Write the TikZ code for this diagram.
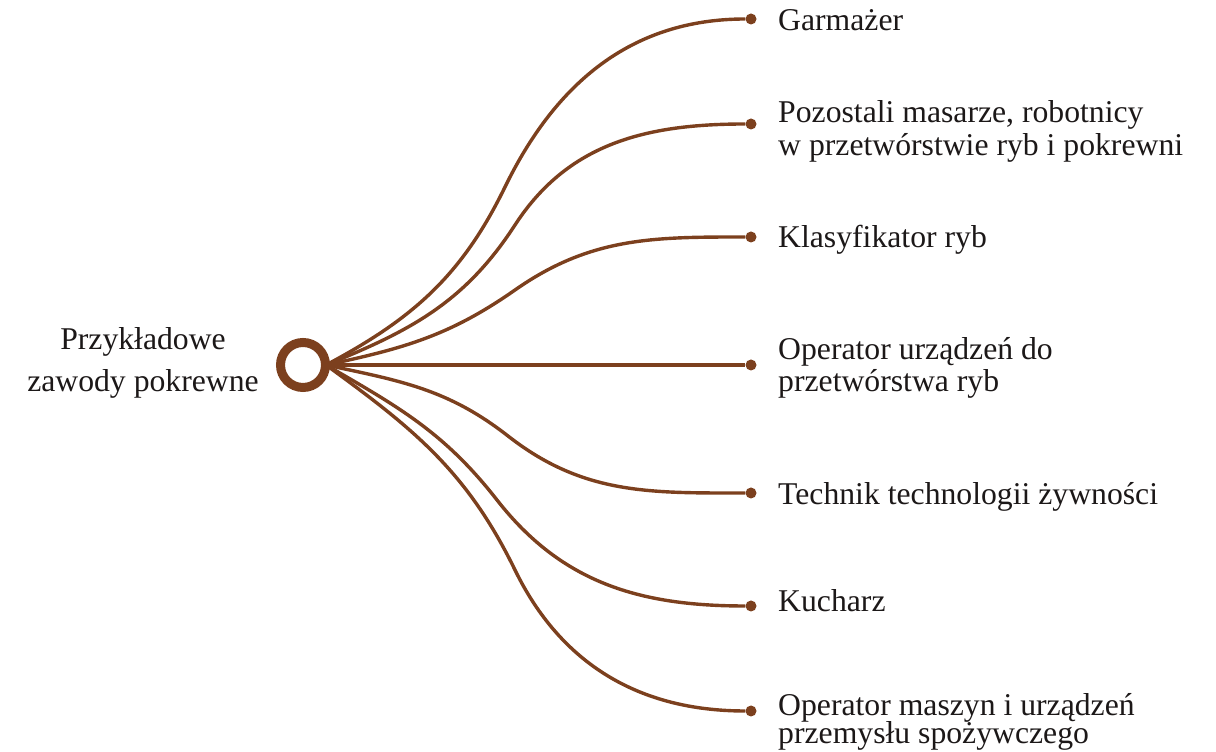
\documentclass[tikz,border=0pt]{standalone}
\usepackage{fontspec}
\setmainfont{Liberation Serif}
\definecolor{brn}{RGB}{124,64,30}
\definecolor{txt}{RGB}{28,24,24}
\begin{document}
\begin{tikzpicture}[x=1pt,y=1pt,
  link/.style={draw=brn, line width=3.4pt},
  enddot/.style={circle, fill=brn, inner sep=0pt, minimum size=11pt},
  lbl/.style={anchor=base west, inner sep=0pt, text=txt, font=\fontsize{31.7}{33}\selectfont},
  rootlbl/.style={anchor=base, inner sep=0pt, text=txt, font=\fontsize{31.7}{33}\selectfont},
  hubring/.style={circle, draw=brn, line width=9pt, fill=white, minimum size=45pt, inner sep=0pt}
]
\useasboundingbox (0,0) rectangle (1216,752);
\coordinate (hub) at (303,387);
\coordinate (hubE) at (326,387);
% end dots
\node[enddot] (e1) at (751,733) {};
\node[enddot] (e2) at (751,628) {};
\node[enddot] (e3) at (751,515) {};
\node[enddot] (e4) at (751,387) {};
\node[enddot] (e5) at (751,259) {};
\node[enddot] (e6) at (751,146) {};
\node[enddot] (e7) at (751,41) {};
% inflection points of the S-curves
\coordinate (m1) at (505,565);
\coordinate (m2) at (515,527);
\coordinate (m3) at (515,462);
\coordinate (m5) at (508,316);
\coordinate (m6) at (497,252);
\coordinate (m7) at (515,182);
% connectors
\draw[link] (hubE) to[out=28,in=-116] (m1) to[out=64,in=180] (e1);
\draw[link] (hubE) to[out=22,in=-123] (m2) to[out=57,in=180] (e2);
\draw[link] (hubE) to[out=12,in=-145] (m3) to[out=35,in=180] (e3);
\draw[link] (hub) -- (e4);
\draw[link] (hubE) to[out=-12,in=142] (m5) to[out=-38,in=180] (e5);
\draw[link] (hubE) to[out=-30,in=128] (m6) to[out=-52,in=180] (e6);
\draw[link] (hubE) to[out=-36,in=116] (m7) to[out=-64,in=180] (e7);
% hub ring
\node[hubring] (ring) at (hub) {};
% labels
\node[rootlbl] (root) at (143,402) {\begin{tabular}[t]{@{}c@{}}Przykładowe\\[9pt]zawody pokrewne\end{tabular}};
\node[lbl] (t1) at (778,721) {Garmażer};
\node[lbl] (t2) at (778,629) {\begin{tabular}[t]{@{}l@{}}Pozostali masarze, robotnicy\\w przetwórstwie ryb i pokrewni\end{tabular}};
\node[lbl] (t3) at (778,504) {Klasyfikator ryb};
\node[lbl] (t4) at (778,392) {\begin{tabular}[t]{@{}l@{}}Operator urządzeń do\\[-1pt]przetwórstwa ryb\end{tabular}};
\node[lbl] (t5) at (778,247) {Technik technologii żywności};
\node[lbl] (t6) at (778,140) {Kucharz};
\node[lbl] (t7) at (778,36) {\begin{tabular}[t]{@{}l@{}}Operator maszyn i urządzeń\\[-5pt]przemysłu spożywczego\end{tabular}};
\end{tikzpicture}
\end{document}
